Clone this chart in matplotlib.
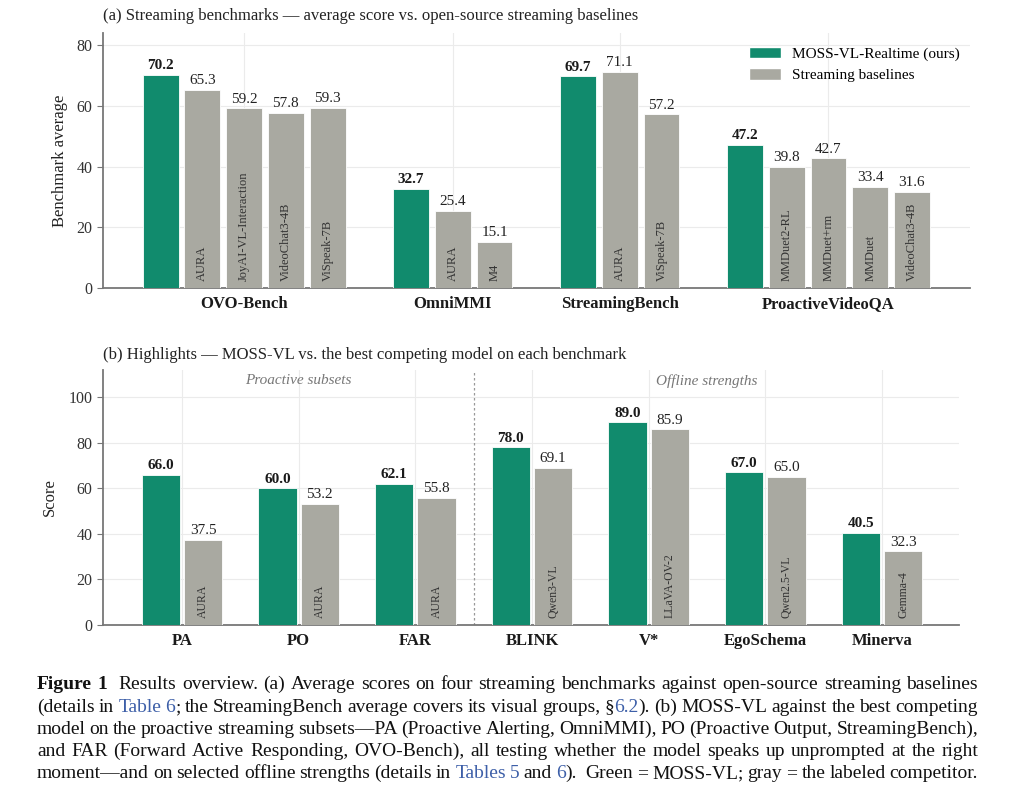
import matplotlib
matplotlib.use('Agg')
import matplotlib.pyplot as plt
from matplotlib.patches import Patch

plt.rcParams['font.family'] = ['Liberation Serif', 'DejaVu Serif']

GREEN = '#118B6D'
GRAY = '#A9A9A1'
TXT = '#1a1a1a'

# ---------------- data ----------------
bench_a = ['OVO-Bench', 'OmniMMI', 'StreamingBench', 'ProactiveVideoQA']
ours_a = [70.2, 32.7, 69.7, 47.2]
base_names_a = [['AURA', 'JoyAI-VL-Interaction', 'VideoChat3-4B', 'ViSpeak-7B'],
                ['AURA', 'M4'],
                ['AURA', 'ViSpeak-7B'],
                ['MMDuet2-RL', 'MMDuet+rm', 'MMDuet', 'VideoChat3-4B']]
base_vals_a = [[65.3, 59.2, 57.8, 59.3],
               [25.4, 15.1],
               [71.1, 57.2],
               [39.8, 42.7, 33.4, 31.6]]

bench_b = ['PA', 'PO', 'FAR', 'BLINK', 'V*', 'EgoSchema', 'Minerva']
ours_b = [66.0, 60.0, 62.1, 78.0, 89.0, 67.0, 40.5]
comp_names_b = ['AURA', 'AURA', 'AURA', 'Qwen3-VL', 'LLaVA-OV-2', 'Qwen2.5-VL', 'Gemma-4']
comp_vals_b = [37.5, 53.2, 55.8, 69.1, 85.9, 65.0, 32.3]

W, H = 1014, 807
fig = plt.figure(figsize=(W / 100, H / 100), dpi=100)


def ax_rect(l, t, r, b):
    return [l / W, 1 - b / H, (r - l) / W, (b - t) / H]


def style_axes(ax):
    for s in ['top', 'right']:
        ax.spines[s].set_visible(False)
    for s in ['left', 'bottom']:
        ax.spines[s].set_color('#777777')
        ax.spines[s].set_linewidth(1.3)
    ax.set_axisbelow(True)
    ax.grid(True, color='#ebebeb', linewidth=0.8)
    ax.tick_params(axis='x', length=0, pad=6)
    ax.tick_params(axis='y', length=4, color='#777777', labelsize=11.5, labelcolor='#333333')
    for lab in ax.get_xticklabels():
        lab.set_fontweight('bold')


# ---------------- panel (a) ----------------
axa = fig.add_axes(ax_rect(103, 33, 970, 288))
bw = 0.86
pos = 0
centers = []
for i in range(len(bench_a)):
    n = 1 + len(base_vals_a[i])
    xs = list(range(pos, pos + n))
    centers.append(pos + (n - 1) / 2)
    axa.bar(xs[0], ours_a[i], width=bw, color=GREEN, edgecolor='white', linewidth=0.6, zorder=3)
    axa.annotate(f'{ours_a[i]:.1f}', (xs[0], ours_a[i]), xytext=(0, 2), textcoords='offset points',
                 ha='center', va='bottom', fontsize=11, fontweight='bold', color=TXT)
    for x, v, nm in zip(xs[1:], base_vals_a[i], base_names_a[i]):
        axa.bar(x, v, width=bw, color=GRAY, edgecolor='white', linewidth=0.6, zorder=3)
        axa.annotate(f'{v:.1f}', (x, v), xytext=(0, 2), textcoords='offset points',
                     ha='center', va='bottom', fontsize=11, color='#222222')
        axa.annotate(nm, (x, 0), xytext=(0, 5), textcoords='offset points', rotation=90,
                     ha='center', va='bottom', fontsize=9, color='#333333', zorder=4)
    pos += n + 1
axa.set_xlim(-1.38, 19.39)
axa.set_ylim(0, 84)
axa.set_yticks([0, 20, 40, 60, 80])
axa.set_xticks(centers)
axa.set_xticklabels(bench_a, fontsize=12, fontweight='bold', color=TXT)
axa.set_ylabel('Benchmark average', fontsize=12, color='#222222', labelpad=6)
style_axes(axa)
axa.set_title('(a) Streaming benchmarks \u2014 average score vs. open-source streaming baselines',
              loc='left', fontsize=12, color='#222222', pad=9)
axa.legend(handles=[Patch(facecolor=GREEN, edgecolor='white'), Patch(facecolor=GRAY, edgecolor='white')],
           labels=['MOSS-VL-Realtime (ours)', 'Streaming baselines'], loc='upper right',
           bbox_to_anchor=(1.0, 0.988), frameon=False, fontsize=11, handlelength=2.1,
           handleheight=0.8, handletextpad=0.7, labelspacing=0.45, borderaxespad=0.3)

# ---------------- panel (b) ----------------
axb = fig.add_axes(ax_rect(103, 370, 959, 625))
off = 0.181
bwb = 0.33
for i in range(len(bench_b)):
    axb.bar(i - off, ours_b[i], width=bwb, color=GREEN, edgecolor='white', linewidth=0.6, zorder=3)
    axb.annotate(f'{ours_b[i]:.1f}', (i - off, ours_b[i]), xytext=(0, 2), textcoords='offset points',
                 ha='center', va='bottom', fontsize=11, fontweight='bold', color=TXT)
    axb.bar(i + off, comp_vals_b[i], width=bwb, color=GRAY, edgecolor='white', linewidth=0.6, zorder=3)
    axb.annotate(f'{comp_vals_b[i]:.1f}', (i + off, comp_vals_b[i]), xytext=(0, 2), textcoords='offset points',
                 ha='center', va='bottom', fontsize=11, color='#222222')
    axb.annotate(comp_names_b[i], (i + off, 0), xytext=(0, 5), textcoords='offset points', rotation=90,
                 ha='center', va='bottom', fontsize=8.5, color='#333333', zorder=4)
axb.axvline(2.5, color='#999999', linestyle=(0, (2, 2)), linewidth=0.9, zorder=2)
axb.text(1, 107.3, 'Proactive subsets', ha='center', va='center', fontsize=11, style='italic', color='#777777')
axb.text(4.5, 107.3, 'Offline strengths', ha='center', va='center', fontsize=11, style='italic', color='#777777')
axb.set_xlim(-0.677, 6.66)
axb.set_ylim(0, 112)
axb.set_yticks([0, 20, 40, 60, 80, 100])
axb.set_xticks(range(len(bench_b)))
axb.set_xticklabels(bench_b, fontsize=12, fontweight='bold', color=TXT)
axb.set_ylabel('Score', fontsize=12, color='#222222', labelpad=8)
style_axes(axb)
axb.set_title('(b) Highlights \u2014 MOSS-VL vs. the best competing model on each benchmark',
              loc='left', fontsize=12, color='#222222', pad=8)

# ---------------- caption ----------------
BLUE = '#3D5FA8'
caption_lines = [
    '<Figure 1>  Results overview. (a) Average scores on four streaming benchmarks against open-source streaming baselines',
    '(details in [Table 6]; the StreamingBench average covers its visual groups, \u00a7[6.2]). (b) MOSS-VL against the best competing',
    'model on the proactive streaming subsets\u2014PA (Proactive Alerting, OmniMMI), PO (Proactive Output, StreamingBench),',
    'and FAR (Forward Active Responding, OVO-Bench), all testing whether the model speaks up unprompted at the right',
    'moment\u2014and on selected offline strengths (details in [Tables 5] and [6]).  Green = MOSS-VL; gray = the labeled competitor.',
]
renderer = fig.canvas.get_renderer()
CAP_FS = 14.0
x_left, x_right = 37, 978
baselines = [689, 712, 734, 756, 778]


def parse(line):
    chars = []
    style = 'n'
    for ch in line:
        if ch == '<':
            style = 'b'
        elif ch == '>':
            style = 'n'
        elif ch == '[':
            style = 'u'
        elif ch == ']':
            style = 'n'
        else:
            chars.append((ch, style))
    words = []
    gaps = []
    cur = []
    nsp = 0
    for ch, st in chars:
        if ch == ' ':
            if cur:
                words.append(cur)
                cur = []
            nsp += 1
        else:
            if nsp and words:
                gaps.append(nsp)
            nsp = 0
            if cur and cur[-1][1] == st:
                cur[-1] = (cur[-1][0] + ch, st)
            else:
                cur.append((ch, st))
    if cur:
        words.append(cur)
    return words, gaps


def measure(txt, st):
    t = fig.text(0, 0, txt, fontsize=CAP_FS, fontweight='bold' if st == 'b' else 'normal')
    w = t.get_window_extent(renderer).width
    t.remove()
    return w


for line, yb in zip(caption_lines, baselines):
    words, gaps = parse(line)
    widths = []
    for wd in words:
        widths.append([measure(txt, st) for txt, st in wd])
    total = sum(sum(w) for w in widths)
    space_units = sum(gaps)
    gap = (x_right - x_left - total) / space_units
    x = x_left
    for k, (wd, ws) in enumerate(zip(words, widths)):
        for (txt, st), w in zip(wd, ws):
            fig.text(x / W, 1 - yb / H, txt, fontsize=CAP_FS, va='baseline', ha='left',
                     fontweight='bold' if st == 'b' else 'normal',
                     color=BLUE if st == 'u' else '#111111')
            x += w
        if k < len(gaps):
            x += gap * gaps[k]

fig.savefig('out.png', dpi=100)
